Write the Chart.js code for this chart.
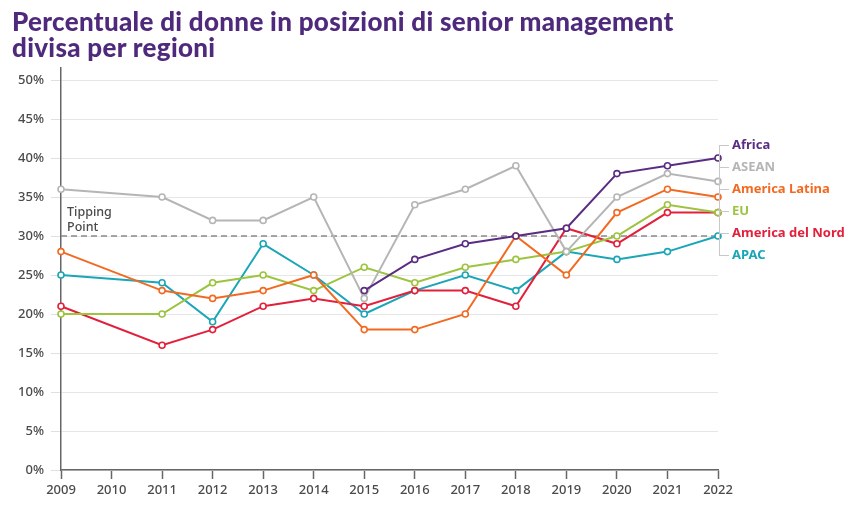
<!DOCTYPE html>
<html>
<head>
<meta charset="utf-8">
<script src="https://cdn.jsdelivr.net/npm/chart.js@4.4.1/dist/chart.umd.min.js"></script>
<style>
  html, body { margin: 0; padding: 0; background: #fff; }
  #wrap { position: relative; width: 863px; height: 506px; }
  #title { position: absolute; left: 12px; top: 8px; margin: 0; font-family: "Lato", "Noto Sans", sans-serif; font-weight: 900; font-size: 26px; line-height: 26px; color: #4f2a7c; letter-spacing: 0.3px; }
  canvas { position: absolute; left: 0; top: 0; }
</style>
</head>
<body>
<div id="wrap">
  <canvas id="c" width="863" height="506"></canvas>
  <h1 id="title">Percentuale di donne in posizioni di senior management<br>divisa per regioni</h1>
</div>
<script>
const years = ["2009","2010","2011","2012","2013","2014","2015","2016","2017","2018","2019","2020","2021","2022"];
const yTicks = [0,5,10,15,20,25,30,35,40,45,50];
const tippingPoint = 30;
const seriesNames = ["Africa","ASEAN","America Latina","EU","America del Nord","APAC"];
const seriesColors = ["#5a2d82","#b5b5b5","#f26a21","#9cc43e","#e3203c","#1aa6b7"];
const africa        = [null,null,null,null,null,null,23,27,29,30,31,38,39,40];
const asean         = [36,null,35,32,32,35,22,34,36,39,28,35,38,37];
const americaLatina = [28,null,23,22,23,25,18,18,20,30,25,33,36,35];
const eu            = [20,null,20,24,25,23,26,24,26,27,28,30,34,33];
const americaNord   = [21,null,16,18,21,22,21,23,23,21,31,29,33,33];
const apac          = [25,null,24,19,29,25,20,23,25,23,28,27,28,30];
const seriesData = [africa, asean, americaLatina, eu, americaNord, apac];

const font = '"Noto Sans", sans-serif';

const datasets = seriesNames.map((n, i) => ({
  label: n,
  data: seriesData[i],
  borderColor: seriesColors[i],
  backgroundColor: '#ffffff',
  pointBackgroundColor: '#ffffff',
  pointBorderColor: seriesColors[i],
  pointRadius: 3,
  pointBorderWidth: 1.6,
  borderWidth: 2,
  tension: 0,
  spanGaps: true,
  order: i
}));

const tippingPlugin = {
  id: 'tipping',
  beforeDatasetsDraw(chart) {
    const {ctx, chartArea, scales} = chart;
    const y = scales.y.getPixelForValue(tippingPoint);
    ctx.save();
    ctx.strokeStyle = '#8a8a8a';
    ctx.lineWidth = 1.5;
    ctx.setLineDash([6, 4]);
    ctx.beginPath();
    ctx.moveTo(chartArea.left, y);
    ctx.lineTo(chartArea.right, y);
    ctx.stroke();
    ctx.setLineDash([]);
    ctx.fillStyle = '#4a4a4a';
    ctx.font = '500 12.5px ' + font;
    ctx.textAlign = 'left';
    ctx.textBaseline = 'middle';
    ctx.fillText('Tipping', chartArea.left + 6, y - 24);
    ctx.fillText('Point', chartArea.left + 6, y - 9);
    ctx.restore();
  }
};

const labelPlugin = {
  id: 'endLabels',
  afterDraw(chart) {
    const {ctx, chartArea} = chart;
    const x0 = chartArea.right + 1;
    const top = chartArea.top + 77;
    const step = 22;
    ctx.save();
    ctx.strokeStyle = '#c8c8c8';
    ctx.lineWidth = 1;
    ctx.beginPath();
    ctx.moveTo(x0 + 0.5, top);
    ctx.lineTo(x0 + 0.5, top + step * (seriesNames.length - 1));
    for (let i = 0; i < seriesNames.length; i++) {
      const y = top + step * i + 0.5;
      ctx.moveTo(x0, y);
      ctx.lineTo(x0 + 10, y);
    }
    ctx.stroke();
    ctx.font = 'bold 13px ' + font;
    ctx.textAlign = 'left';
    ctx.textBaseline = 'middle';
    seriesNames.forEach((n, i) => {
      ctx.fillStyle = seriesColors[i];
      ctx.fillText(n, x0 + 13, top + step * i);
    });
    ctx.restore();
  }
};

new Chart(document.getElementById('c'), {
  type: 'line',
  data: { labels: years, datasets },
  options: {
    responsive: false,
    animation: false,
    devicePixelRatio: 1,
    layout: { padding: { top: 68, right: 145, left: 0, bottom: 0 } },
    plugins: { legend: { display: false }, tooltip: { enabled: false }, title: { display: false } },
    scales: {
      x: {
        type: 'category',
        offset: false,
        grid: { drawOnChartArea: false, drawTicks: true, tickLength: 9, tickColor: '#666', tickWidth: 1.5 },
        border: { display: true, color: '#666', width: 1.5 },
        ticks: { color: '#4a4a4a', font: { family: font, size: 13, weight: '500' }, padding: 3, maxRotation: 0, autoSkip: false },
        afterFit(s) { s.height = 36; }
      },
      y: {
        min: 0,
        max: 51.54,
        afterBuildTicks(s) { s.ticks = yTicks.map(v => ({ value: v })); },
        grid: { color: '#e6e6e6', tickLength: 10, tickColor: '#e0e0e0', lineWidth: 1 },
        border: { display: true, color: '#666', width: 1.5 },
        ticks: { color: '#4a4a4a', font: { family: font, size: 13, weight: '500' }, padding: 7, callback: v => v + '%' },
        afterFit(s) { s.width = 61; }
      }
    }
  },
  plugins: [tippingPlugin, labelPlugin]
});
</script>
</body>
</html>
